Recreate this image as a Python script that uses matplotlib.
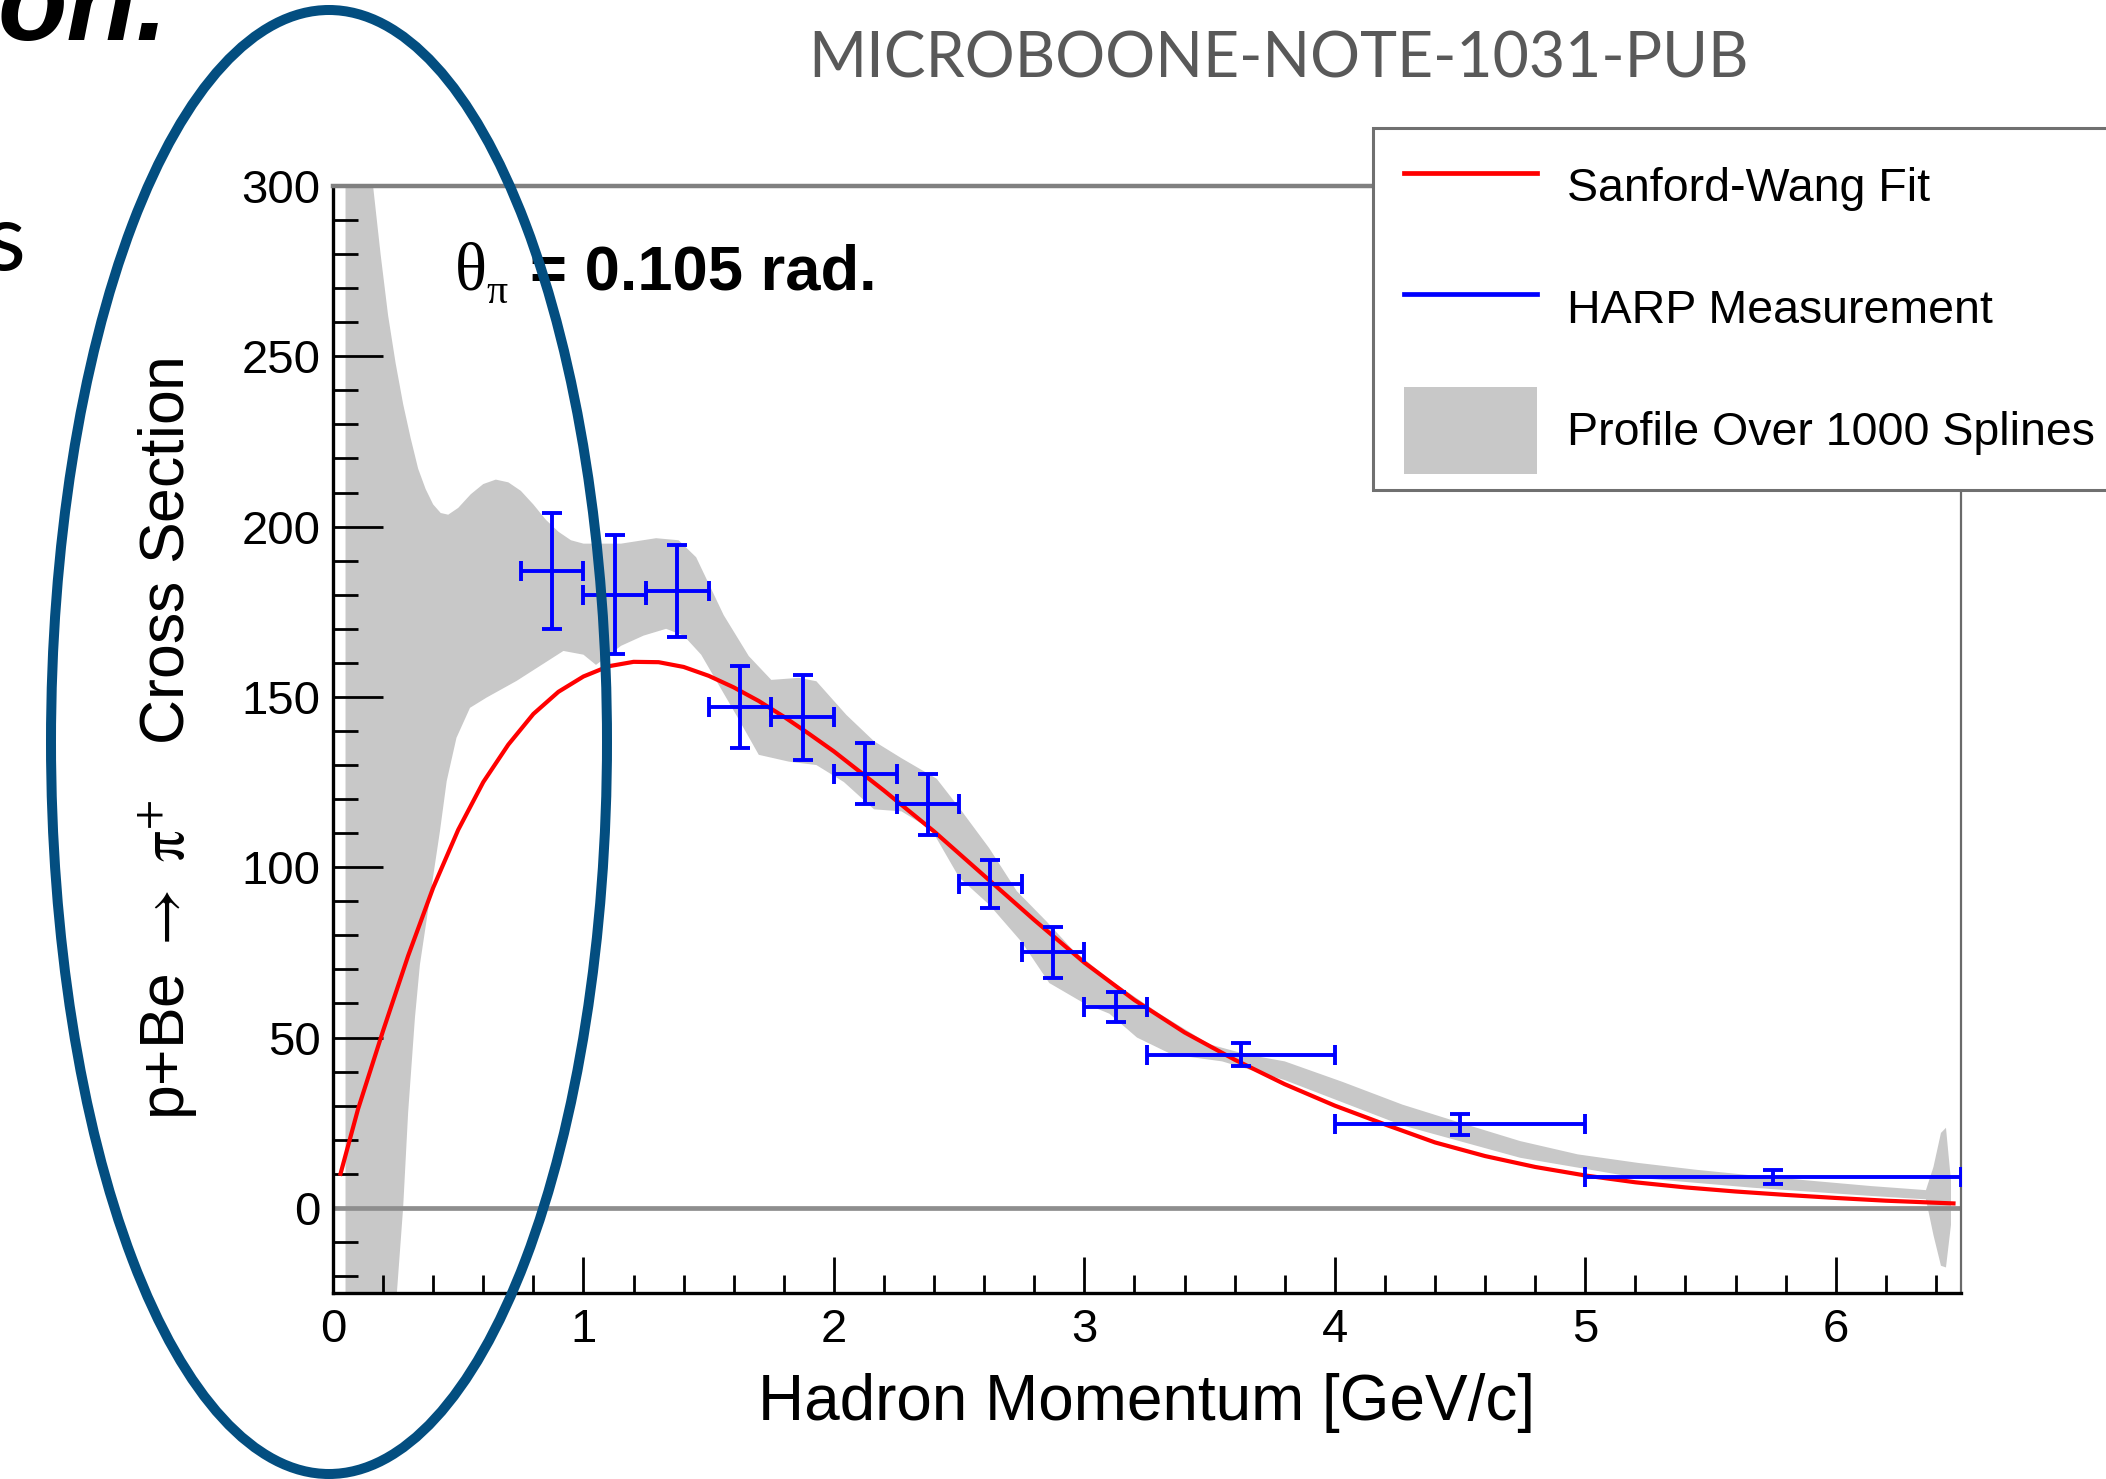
import matplotlib
matplotlib.use("Agg")
import matplotlib.pyplot as plt
from matplotlib.patches import Ellipse, Patch
from matplotlib.lines import Line2D
from matplotlib.legend_handler import HandlerLine2D, HandlerPatch
from matplotlib.ticker import MultipleLocator

# ---------------- data ----------------
harp_x = [0.875, 1.125, 1.375, 1.625, 1.875, 2.125, 2.375, 2.625, 2.875, 3.125, 3.625, 4.5, 5.75]
harp_xerr = [0.125, 0.125, 0.125, 0.125, 0.125, 0.125, 0.125, 0.125, 0.125, 0.125, 0.375, 0.5, 0.75]
harp_y = [187, 180, 181, 147, 144, 127.5, 118.5, 95, 75, 59, 45, 24.5, 9]
harp_yerr = [17, 17.5, 13.5, 12, 12.5, 9, 9, 7, 7.5, 4.5, 3.5, 3, 2]

sw_x = [0.03, 0.1, 0.2, 0.3, 0.4, 0.5, 0.6, 0.7, 0.8, 0.9, 1.0, 1.1, 1.2, 1.3, 1.4, 1.5,
        1.6, 1.7, 1.8, 1.9, 2.0, 2.2, 2.4, 2.6, 2.8, 3.0, 3.2, 3.4, 3.6, 3.8, 4.0, 4.2,
        4.4, 4.6, 4.8, 5.0, 5.2, 5.4, 5.6, 5.8, 6.0, 6.2, 6.4, 6.47]
sw_y = [10, 29, 52, 74, 94, 111, 125, 136, 145, 151.5, 156, 159, 160.3, 160.2, 158.8, 156.2,
        152.8, 148.8, 144.2, 139.2, 134, 122.5, 110.5, 97.5, 84.5, 72, 61, 51.5, 43.5, 36.3, 30, 24.5,
        19.2, 15.2, 12.0, 9.5, 7.5, 6.0, 4.8, 3.8, 2.9, 2.1, 1.5, 1.3]

band_up_x = [0.05, 0.13, 0.16, 0.19, 0.22, 0.25, 0.28, 0.31, 0.34, 0.37, 0.40, 0.43, 0.46,
             0.50, 0.55, 0.60, 0.65, 0.70, 0.75, 0.80, 0.85, 0.90, 0.95, 1.0,
             1.15, 1.29, 1.38, 1.45, 1.56, 1.66, 1.75, 1.86, 1.93, 2.05, 2.16, 2.27, 2.41,
             2.5, 2.62, 2.73, 2.85, 2.95, 3.1, 3.3, 3.5, 3.65, 3.8, 4.03, 4.27, 4.5, 4.74,
             4.97, 5.21, 5.44, 5.67, 5.91, 6.14, 6.36, 6.39, 6.42, 6.44, 6.46]
band_up_y = [340, 310, 300, 280, 262, 248, 236, 226, 217, 211, 206.5, 204, 203.5,
             205.5, 209.5, 212.5, 213.8, 213, 210.5, 206.5, 202, 198.5, 196, 195,
             195, 196.6, 196, 191, 174, 162, 155, 155.6, 154.6, 144.7, 137, 132, 126,
             117.5, 105.6, 93, 84, 76, 67, 57, 48, 45, 43, 37, 30.3, 25, 19.6,
             15.7, 13.2, 11.2, 9.5, 7.9, 6.4, 5.2, 12, 22, 23.5, 8]
band_lo_x = [0.05, 0.25, 0.28, 0.30, 0.327, 0.347, 0.387, 0.427, 0.454, 0.493, 0.547,
             0.613, 0.733, 0.92, 1.0, 1.05, 1.15, 1.24, 1.33, 1.4, 1.47, 1.61, 1.70, 1.82,
             1.93, 2.04, 2.16, 2.27, 2.39, 2.5, 2.62, 2.75, 2.86, 3.0, 3.1, 3.21, 3.35, 3.55,
             3.8, 4.27, 4.74, 5.21, 5.67, 6.14, 6.36, 6.39, 6.42, 6.44, 6.46]
band_lo_y = [-40, -30, 0, 28, 55.7, 71.4, 91, 110.6, 125.3, 138, 146.8,
             149.8, 154.7, 163.5, 162.4, 159.4, 165, 168, 170, 168, 162.4, 144.7, 133, 131,
             130, 125, 117, 116.4, 111, 97, 89, 78, 66, 60, 57, 50, 45, 43,
             37.5, 24.2, 14.7, 8.8, 5.9, 3.5, 2.5, -8, -17, -17.5, -5]

x_ticks = [0, 1, 2, 3, 4, 5, 6]
y_ticks = [0, 50, 100, 150, 200, 250, 300]

legend_labels = ["Sanford-Wang Fit", "HARP Measurement", "Profile Over 1000 Splines"]

# ---------------- figure ----------------
W, H = 2106, 1479
fig = plt.figure(figsize=(W / 100, H / 100), dpi=100)
fig.patch.set_facecolor("white")
plt.rcParams["mathtext.fontset"] = "stix"


def fx(px):
    return px / W


def fy(py):
    return 1 - py / H


ax_l, ax_r, ax_t, ax_b = 333, 1961, 186, 1293
ax = fig.add_axes([fx(ax_l), fy(ax_b), (ax_r - ax_l) / W, (ax_b - ax_t) / H])
ax.set_xlim(0, 6.5)
ax.set_ylim(-25, 300)

SANS = "Liberation Sans"
BAND = "#c8c8c8"

# band
poly_x = band_up_x + band_lo_x[::-1]
poly_y = band_up_y + band_lo_y[::-1]
ax.fill(poly_x, poly_y, color=BAND, lw=0, zorder=1)

# zero line
ax.axhline(0, color="#8e8e8e", lw=3.4, zorder=2)

# fit
ax.plot(sw_x, sw_y, color="#ff0000", lw=3.0, zorder=3, solid_joinstyle="round")

# data
ax.errorbar(harp_x, harp_y, xerr=harp_xerr, yerr=harp_yerr, fmt="none",
            ecolor="#0000ff", elinewidth=2.8, capsize=7, capthick=2.8, zorder=4)

# spines
for s in ["left", "bottom"]:
    ax.spines[s].set_color("black")
    ax.spines[s].set_linewidth(2.4)
ax.spines["top"].set_color("#808080")
ax.spines["top"].set_linewidth(3.2)
ax.spines["right"].set_color("#6a6a6a")
ax.spines["right"].set_linewidth(1.6)

# ticks
ax.set_xticks(x_ticks)
ax.set_yticks(y_ticks)
ax.xaxis.set_minor_locator(MultipleLocator(0.2))
ax.yaxis.set_minor_locator(MultipleLocator(10))
ax.tick_params(axis="x", which="major", direction="in", length=26, width=2.0,
               top=False, pad=11, labelsize=34)
ax.tick_params(axis="x", which="minor", direction="in", length=13, width=2.0, top=False)
ax.tick_params(axis="y", which="major", direction="in", length=36, width=2.0,
               right=False, pad=9, labelsize=34)
ax.tick_params(axis="y", which="minor", direction="in", length=18, width=2.0, right=False)
for lab in ax.get_xticklabels() + ax.get_yticklabels():
    lab.set_family(SANS)

# axis labels
fig.text(fx(1147), fy(1403), "Hadron Momentum [GeV/c]", ha="center", va="center",
         fontsize=46, family=SANS)
fig.text(fx(168), fy(739), r"p+Be $\rightarrow$ $\mathrm{\pi}^{+}$   Cross Section",
         rotation=90, ha="center", va="center", fontsize=45, family=SANS)

# annotation theta
fig.text(fx(455), fy(289), "θ", family="Liberation Serif", fontsize=48, va="baseline", ha="left")
fig.text(fx(486), fy(303), "π", family="Liberation Serif", fontsize=30, va="baseline", ha="left")
fig.text(fx(530), fy(289), "= 0.105 rad.", family=SANS, fontsize=45.5, fontweight="bold",
         va="baseline", ha="left")

# legend
handles = [Line2D([], [], color="#ff0000", lw=3.4),
           Line2D([], [], color="#0000ff", lw=3.4),
           Patch(facecolor=BAND, edgecolor="none")]
hmap = {handles[0]: HandlerLine2D(xpad=0.32), handles[1]: HandlerLine2D(xpad=0.32),
        handles[2]: HandlerPatch(xpad=0.32)}
leg = fig.legend(handles, legend_labels, loc="upper left", mode="expand",
                 bbox_to_anchor=(fx(1373), 0, (2240 - 1373) / W, fy(128)),
                 bbox_transform=fig.transFigure, handler_map=hmap,
                 borderaxespad=0, frameon=True, fancybox=False, framealpha=1,
                 edgecolor="#707070", prop={"family": SANS, "size": 33.5},
                 handlelength=3.19, handleheight=2.48, handletextpad=0.63,
                 labelspacing=0.76, borderpad=0.34)
leg.get_frame().set_linewidth(2.2)

# slide texts
fig.text(fx(1278), fy(78), "MICROBOONE-NOTE-1031-PUB", ha="center", va="baseline",
         color="#595959", fontsize=45, family="Lato")
fig.text(fx(168), fy(40), "on.", ha="right", va="baseline", fontsize=82,
         fontweight="bold", fontstyle="italic", family=SANS, color="black")
fig.text(fx(26), fy(270), "s", ha="right", va="baseline", fontsize=68,
         family="Lato", color="black")

# ellipse overlay
ell = Ellipse((329 / 100, (H - 742) / 100), 5.56, 14.64, transform=fig.dpi_scale_trans,
              fill=False, edgecolor="#034E80", lw=7.2, zorder=100)
fig.add_artist(ell)

fig.savefig("out.png", dpi=100)
